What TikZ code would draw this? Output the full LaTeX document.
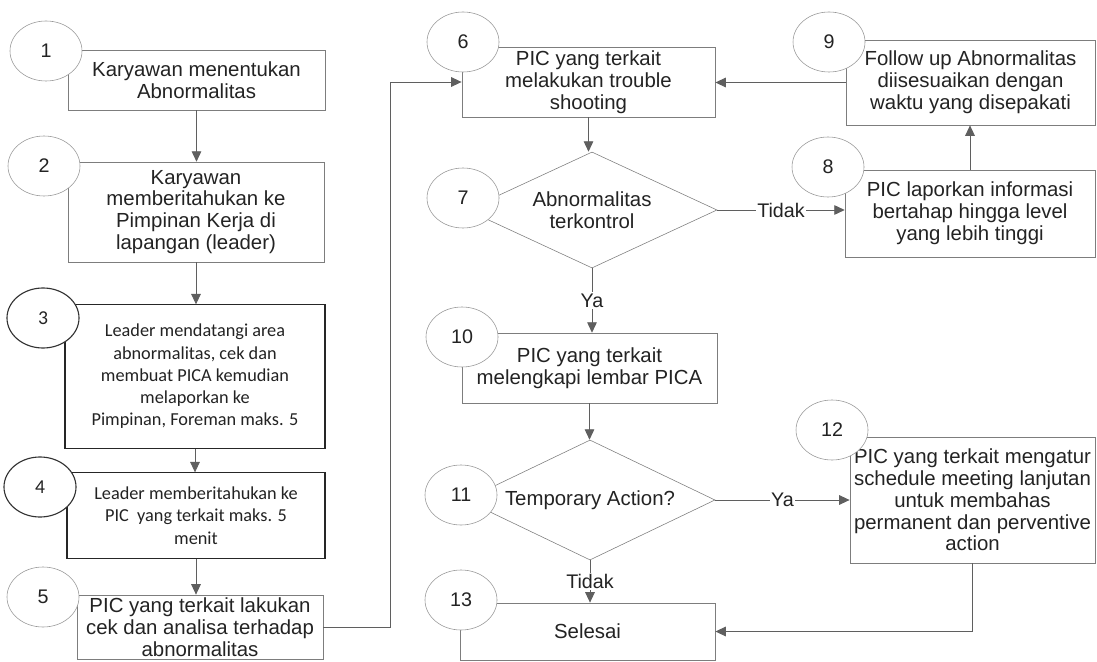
\documentclass[tikz,border=0pt]{standalone}
\usepackage{fontspec}
\setmainfont{Liberation Sans}
\newfontfamily\calibrifont{Carlito}
\usetikzlibrary{arrows.meta,shapes.geometric}

\definecolor{linegray}{RGB}{125,125,125}
\definecolor{ringgray}{RGB}{150,150,150}
\definecolor{alurgray}{RGB}{95,95,95}
\definecolor{textgray}{RGB}{35,35,35}

\tikzset{
  prosesbox/.style={draw=linegray, fill=white, align=center, inner sep=2pt,
    text=textgray, font=\fontsize{14.5}{15.5}\selectfont},
  leaderbox/.style={prosesbox, draw=black!85, line width=0.8pt,
    font=\calibrifont\fontsize{13}{15.8}\selectfont},
  keputusan/.style={diamond, draw=linegray, fill=white, aspect=2.2, inner sep=0pt,
    minimum width=6.25cm, align=center, text=textgray, font=\fontsize{14.5}{15.5}\selectfont},
  nomor/.style={ellipse, draw=ringgray, fill=white, minimum width=1.8cm,
    minimum height=1.5cm, inner sep=0pt, text=textgray, font=\fontsize{14}{14}\selectfont},
  nomorgelap/.style={nomor, draw=black!80, line width=0.8pt, font=\calibrifont\fontsize{14}{14}\selectfont},
  alur/.style={draw=alurgray, line width=0.6pt, -{Triangle[length=2.6mm,width=2.4mm]}},
  ket/.style={fill=white, inner sep=1pt, text=textgray, font=\fontsize{14}{14}\selectfont}
}

\begin{document}
\begin{tikzpicture}[x=0.025cm, y=-0.025cm]
    \useasboundingbox (0,0) rectangle (1097,662);

    % kolom kiri
    \node[prosesbox, minimum width=6.43cm, minimum height=1.5cm] (b1) at (196.5,80) {Karyawan menentukan\\Abnormalitas};
    \node[prosesbox, minimum width=6.4cm, minimum height=2.5cm] (b2) at (196,212) {Karyawan\\memberitahukan ke\\Pimpinan Kerja di\\lapangan (leader)};
    \node[leaderbox, minimum width=6.5cm, minimum height=3.58cm] (b3) at (195,376.5) {Leader mendatangi area\\abnormalitas, cek dan\\membuat PICA kemudian\\melaporkan ke\\Pimpinan, Foreman maks. 5};
    \node[leaderbox, minimum width=6.45cm, minimum height=2.13cm] (b4) at (196,515.5) {Leader memberitahukan ke\\PIC~ yang terkait maks. 5\\menit};
    \node[prosesbox, minimum width=6.15cm, minimum height=1.6cm] (b5) at (200,627) {PIC yang terkait lakukan\\cek dan analisa terhadap\\abnormalitas};

    % kolom tengah
    \node[prosesbox, minimum width=6.33cm, minimum height=1.75cm] (b6) at (588.5,82) {PIC yang terkait\\melakukan trouble\\shooting};
    \node[keputusan, minimum height=2.9cm] (d7) at (592,210) {Abnormalitas\\terkontrol};
    \node[prosesbox, minimum width=6.38cm, minimum height=1.75cm] (b10) at (589.5,368) {PIC yang terkait\\melengkapi lembar PICA};
    \node[keputusan, minimum height=3cm] (d11) at (590,500) {Temporary Action?};
    \node[prosesbox, minimum width=6.38cm, minimum height=1.43cm] (b13) at (587.5,631.5) {Selesai};

    % kolom kanan
    \node[prosesbox, minimum width=6.23cm, minimum height=2.13cm] (b9) at (970.5,82.5) {Follow up Abnormalitas\\diisesuaikan dengan\\waktu yang disepakati};
    \node[prosesbox, minimum width=6.25cm, minimum height=2.18cm] (b8) at (970,213.5) {PIC laporkan informasi\\bertahap hingga level\\yang lebih tinggi};
    \node[prosesbox, minimum width=6.13cm, minimum height=3.15cm] (b12) at (972.5,500) {PIC yang terkait mengatur\\schedule meeting lanjutan\\untuk membahas\\permanent dan perventive\\action};

    % nomor langkah
    \node[nomor] (n1) at (46,51) {1};
    \node[nomor] (n2) at (44,166) {2};
    \node[nomorgelap] (n3) at (43,318) {3};
    \node[nomorgelap] (n4) at (40,487) {4};
    \node[nomor] (n5) at (43,597) {5};
    \node[nomor] (n6) at (463,42) {6};
    \node[nomor] (n7) at (463,198) {7};
    \node[nomor] (n8) at (828,167) {8};
    \node[nomor] (n9) at (829,42) {9};
    \node[nomor] (n10) at (462,337) {10};
    \node[nomor] (n11) at (461,495) {11};
    \node[nomor] (n12) at (832,430) {12};
    \node[nomor] (n13) at (461,600) {13};

    \coordinate (balik) at (390,82);

    % alur
    \draw[alur] (b1.south) -- (b1.south |- b2.north);
    \draw[alur] (b2.south) -- (b2.south |- b3.north);
    \draw[alur] (b3.south) -- (b3.south |- b4.north);
    \draw[alur] (b4.south) -- (b4.south |- b5.north);
    \draw[alur] (b5.east) -| (balik) -- (b6.west);
    \draw[alur] (b6.south) -- (b6.south |- d7.north);
    \draw[alur] (d7.east) -- node[ket]{Tidak} (d7.east -| b8.west);
    \draw[alur] (b8.north) -- (b8.north |- b9.south);
    \draw[alur] (b9.west) -- (b9.west -| b6.east);
    \draw[alur] (d7.south) -- node[ket]{Ya} (d7.south |- b10.north);
    \draw[alur] (b10.south) -- (b10.south |- d11.north);
    \draw[alur] (d11.east) -- node[ket]{Ya} (d11.east -| b12.west);
    \draw[alur] (d11.south) -- node[ket]{Tidak} (d11.south |- b13.north);
    \draw[alur] (b12.south) |- (b13.east);
\end{tikzpicture}
\end{document}
